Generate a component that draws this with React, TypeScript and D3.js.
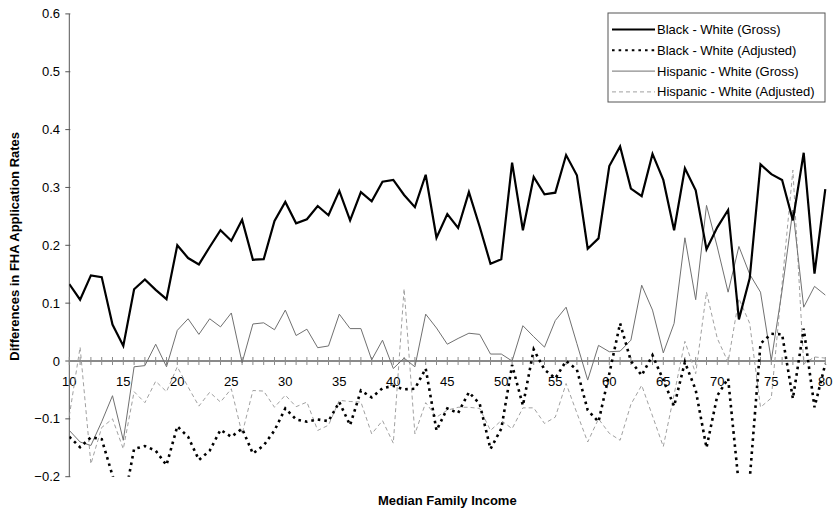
import React from "react";
import * as d3 from "d3";

const incomes: number[] = d3.range(10, 81);

const blackWhiteGross: number[] = [
  0.133, 0.106, 0.148, 0.145, 0.063, 0.026, 0.124, 0.141, 0.123, 0.107,
  0.200, 0.178, 0.167, 0.197, 0.226, 0.208, 0.244, 0.175, 0.176, 0.242,
  0.275, 0.238, 0.245, 0.268, 0.252, 0.294, 0.243, 0.292, 0.276, 0.310,
  0.313, 0.287, 0.266, 0.322, 0.213, 0.254, 0.230, 0.292, 0.232, 0.168,
  0.176, 0.343, 0.226, 0.318, 0.288, 0.291, 0.356, 0.321, 0.194, 0.212,
  0.337, 0.371, 0.298, 0.285, 0.358, 0.313, 0.226, 0.333, 0.295, 0.193,
  0.231, 0.261, 0.072, 0.143, 0.340, 0.323, 0.313, 0.243, 0.360, 0.151,
  0.297,
];

const blackWhiteAdjusted: number[] = [
  -0.131, -0.149, -0.132, -0.135, -0.198, -0.25, -0.152, -0.147, -0.155, -0.180,
  -0.113, -0.131, -0.171, -0.155, -0.119, -0.131, -0.117, -0.160, -0.146, -0.120,
  -0.082, -0.101, -0.105, -0.101, -0.104, -0.071, -0.111, -0.051, -0.063, -0.047,
  -0.043, -0.049, -0.048, -0.013, -0.120, -0.082, -0.090, -0.054, -0.074, -0.152,
  -0.117, -0.007, -0.077, 0.020, -0.015, -0.030, 0.000, -0.015, -0.085, -0.105,
  -0.022, 0.065, 0.000, -0.025, 0.010, -0.033, -0.078, -0.002, -0.050, -0.150,
  -0.060, -0.030, -0.215, -0.205, 0.030, 0.047, 0.046, -0.065, 0.056, -0.080,
  -0.005,
];

const hispanicWhiteGross: number[] = [
  -0.120, -0.140, -0.146, -0.105, -0.060, -0.137, -0.010, -0.008, 0.029, -0.010,
  0.053, 0.073, 0.046, 0.073, 0.059, 0.083, -0.003, 0.064, 0.066, 0.054,
  0.088, 0.044, 0.055, 0.023, 0.026, 0.081, 0.056, 0.056, 0.002, 0.036,
  -0.013, 0.005, -0.010, 0.081, 0.057, 0.029, 0.039, 0.048, 0.046, 0.012,
  0.012, 0.000, 0.061, 0.042, 0.024, 0.070, 0.093, 0.030, -0.033, 0.027,
  0.016, 0.017, 0.036, 0.131, 0.088, 0.014, 0.065, 0.213, 0.106, 0.269,
  0.197, 0.119, 0.198, 0.150, 0.119, 0.001, 0.122, 0.261, 0.093, 0.129,
  0.114,
];

const hispanicWhiteAdjusted: number[] = [
  -0.095, 0.024, -0.178, -0.115, -0.100, -0.152, -0.053, -0.072, -0.035, -0.053,
  -0.010, -0.045, -0.078, -0.054, -0.071, -0.048, -0.126, -0.051, -0.052, -0.080,
  -0.059, -0.079, -0.071, -0.120, -0.111, -0.068, -0.070, -0.071, -0.126, -0.103,
  -0.142, 0.125, -0.126, -0.072, -0.097, -0.085, -0.080, -0.080, -0.082, -0.120,
  -0.103, -0.117, -0.081, -0.081, -0.108, -0.097, -0.039, -0.090, -0.140, -0.100,
  -0.125, -0.137, -0.075, -0.042, -0.095, -0.148, -0.058, 0.034, -0.022, 0.119,
  0.039, -0.002, 0.108, 0.065, -0.080, -0.064, 0.134, 0.330, -0.005, 0.007,
  0.005,
];

const seriesNames: string[] = [
  "Black - White (Gross)",
  "Black - White (Adjusted)",
  "Hispanic - White (Gross)",
  "Hispanic - White (Adjusted)",
];

const xTickLabels: number[] = [10, 15, 20, 25, 30, 35, 40, 45, 50, 55, 60, 65, 70, 75, 80];
const yTickLabels: number[] = [-0.2, -0.1, 0, 0.1, 0.2, 0.3, 0.4, 0.5, 0.6];

const W = 839;
const H = 510;
const FONT = "'Liberation Sans', Arial, Helvetica, sans-serif";

const x = d3.scaleLinear().domain([10, 80]).range([69.3, 825.3]);
const y = d3.scaleLinear().domain([-0.2, 0.6]).range([476.7, 13.9]);

const styles = [
  { stroke: "#000", width: 2.2, dash: undefined as string | undefined, linecap: "butt" },
  { stroke: "#000", width: 2.6, dash: "2.6 4", linecap: "butt" },
  { stroke: "#707070", width: 1, dash: undefined as string | undefined, linecap: "butt" },
  { stroke: "#a0a0a0", width: 1, dash: "4 3", linecap: "butt" },
];

const allSeries = [blackWhiteGross, blackWhiteAdjusted, hispanicWhiteGross, hispanicWhiteAdjusted];

export default function App() {
  const line = d3
    .line<number>()
    .x((_, i) => x(incomes[i]))
    .y((d) => y(d));

  const [x0, x1] = x.range();
  const [yb, yt] = y.range();

  const fmt = (v: number) => (v === 0 ? "0" : d3.format(".1f")(v));

  const legX = 608;
  const legY = 13;
  const legW = 217;
  const legH = 89;
  const rowY = (i: number) => 29.5 + i * 20.8;

  return (
    <svg
      width={W}
      height={H}
      style={{ position: "absolute", left: 0, top: 0, background: "#fff" }}
      fontFamily={FONT}
    >
      <defs>
        <clipPath id="plotClip">
          <rect x={x0} y={yt} width={x1 - x0 + 2} height={yb - yt} />
        </clipPath>
      </defs>
      <rect x={0} y={0} width={W} height={H} fill="#fff" />

      {/* Y axis */}
      <line x1={x0} x2={x0} y1={yt} y2={yb} stroke="#555" strokeWidth={1} />
      {yTickLabels.map((v) => (
        <g key={v}>
          <line x1={x0 - 4} x2={x0 + 1} y1={y(v)} y2={y(v)} stroke="#555" strokeWidth={1} />
          <text x={60} y={y(v) + 4.5} textAnchor="end" fontSize={13} fill="#000">
            {fmt(v)}
          </text>
        </g>
      ))}

      {/* X axis along zero */}
      <line x1={x0} x2={x1} y1={y(0)} y2={y(0)} stroke="#8a8a8a" strokeWidth={2} />
      {incomes.map((v) => (
        <line
          key={v}
          x1={x(v)}
          x2={x(v)}
          y1={y(0) - 4}
          y2={y(0) + 4}
          stroke="#8a8a8a"
          strokeWidth={1}
        />
      ))}
      {xTickLabels.map((v) => (
        <text key={v} x={x(v)} y={386} textAnchor="middle" fontSize={13} fill="#000">
          {v}
        </text>
      ))}

      {/* Series */}
      <g clipPath="url(#plotClip)">
        {[3, 2, 1, 0].map((si) => (
          <path
            key={si}
            d={line(allSeries[si]) || ""}
            fill="none"
            stroke={styles[si].stroke}
            strokeWidth={styles[si].width}
            strokeDasharray={styles[si].dash}
            strokeLinejoin="miter"
          />
        ))}
      </g>

      {/* Axis titles */}
      <text
        transform={`translate(19, ${(yt + yb) / 2 + 1}) rotate(-90)`}
        textAnchor="middle"
        fontSize={13}
        fontWeight="bold"
        fill="#000"
      >
        Differences in FHA Application Rates
      </text>
      <text x={(x0 + x1) / 2} y={505} textAnchor="middle" fontSize={13} fontWeight="bold" fill="#000">
        Median Family Income
      </text>

      {/* Legend */}
      <rect x={legX} y={legY} width={legW} height={legH} fill="#fff" stroke="#555" strokeWidth={1} />
      {seriesNames.map((name, i) => (
        <g key={name}>
          <line
            x1={legX + 4}
            x2={legX + 47}
            y1={rowY(i)}
            y2={rowY(i)}
            stroke={styles[i].stroke}
            strokeWidth={i === 1 ? 2 : styles[i].width}
            strokeDasharray={styles[i].dash}
          />
          <text x={legX + 49} y={rowY(i) + 4.5} fontSize={13} fill="#000">
            {name}
          </text>
        </g>
      ))}
    </svg>
  );
}
